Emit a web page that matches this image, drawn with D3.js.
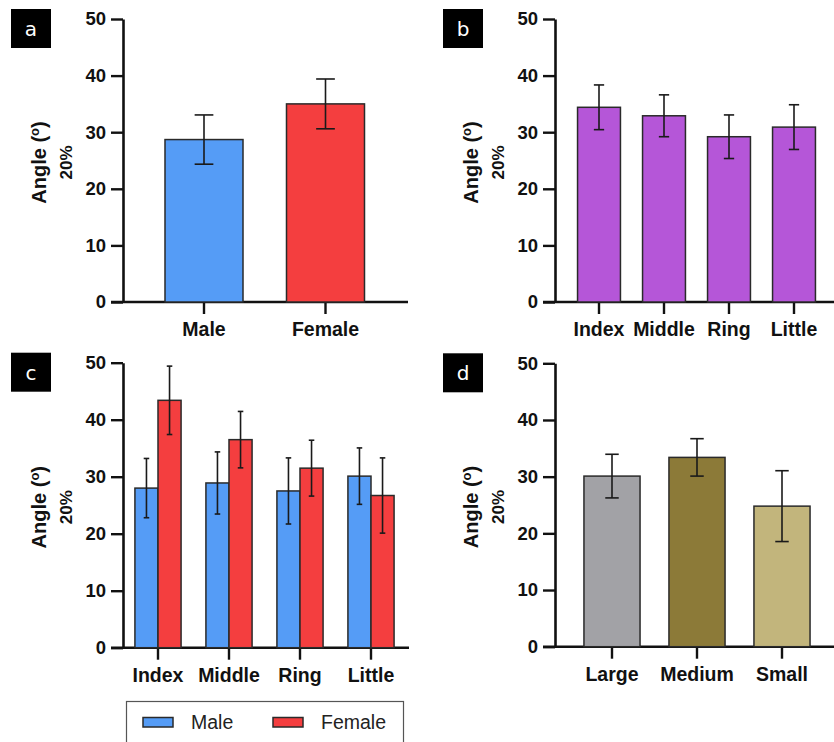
<!DOCTYPE html>
<html>
<head>
<meta charset="utf-8">
<script src="https://cdn.jsdelivr.net/npm/d3@7"></script>
<style>
  html, body { margin: 0; padding: 0; background: #fff; }
  svg { display: block; font-family: "Liberation Sans", Arial, sans-serif; }
</style>
</head>
<body>
<svg id="chart" width="834" height="742"></svg>
<script>
// ---- data ----
const yTicks = [0, 10, 20, 30, 40, 50];

// a: by sex
const sexCategories = ["Male", "Female"];
const sexMeans = [28.7, 35.0];
const sexSD = [4.35, 4.4];
const sexColors = ["#559cf6", "#f43e3f"];

// b: by finger
const fingerCategories = ["Index", "Middle", "Ring", "Little"];
const fingerMeans = [34.4, 32.9, 29.2, 30.9];
const fingerSD = [3.95, 3.7, 3.85, 3.95];
const fingerColor = "#b556d8";

// c: finger x sex
const groupSeries = ["Male", "Female"];
const maleFingerMeans = [28.0, 28.9, 27.5, 30.1];
const maleFingerSD = [5.2, 5.45, 5.8, 4.95];
const femaleFingerMeans = [43.4, 36.5, 31.5, 26.7];
const femaleFingerSD = [6.0, 4.95, 4.9, 6.6];

// d: by hand size
const sizeCategories = ["Large", "Medium", "Small"];
const sizeMeans = [30.1, 33.4, 24.8];
const sizeSD = [3.85, 3.3, 6.25];
const sizeColors = ["#a2a2a6", "#8c7a38", "#c2b57c"];

const svg = d3.select("#chart");
const INK = "#111";
const FONT = "'Liberation Sans', Arial, sans-serif";

// Draw one panel's frame: y axis, x baseline with category ticks, titles, letter tag.
function panelFrame(p) {
  const g = svg.append("g");
  const y = d3.scaleLinear().domain([0, 50]).range([p.yBottom, p.yTop]);
  const x = d3.scaleBand().domain(p.categories).range(p.xRange)
    .paddingInner(p.padding).paddingOuter(p.padding / 2);

  // y axis
  const ya = g.append("g").attr("transform", `translate(${p.axisX},0)`)
    .call(d3.axisLeft(y).tickValues(yTicks).tickSize(12).tickSizeOuter(0).tickPadding(5));
  ya.attr("font-family", FONT);
  ya.select(".domain").attr("stroke", INK).attr("stroke-width", 2.6);
  ya.selectAll(".tick line").attr("stroke", INK).attr("stroke-width", 2.4);
  ya.selectAll(".tick text").attr("fill", INK).attr("font-size", 18.5)
    .attr("font-weight", "bold");

  // x axis
  const xa = g.append("g").attr("transform", `translate(0,${p.yBottom})`)
    .call(d3.axisBottom(x).tickSize(12).tickSizeOuter(0).tickPadding(8));
  xa.attr("font-family", FONT);
  xa.select(".domain").remove();
  xa.selectAll(".tick line").attr("stroke", INK).attr("stroke-width", 2.4);
  xa.selectAll(".tick text").attr("fill", INK).attr("font-size", 19.5)
    .attr("font-weight", "bold");
  g.append("line")
    .attr("x1", p.axisX - 12).attr("x2", p.xEnd)
    .attr("y1", p.yBottom).attr("y2", p.yBottom)
    .attr("stroke", INK).attr("stroke-width", 2.6);

  // y title (two lines)
  const cy = (p.yTop + p.yBottom) / 2 + 2;
  const t1 = g.append("text")
    .attr("transform", `translate(${p.axisX - 77},${cy}) rotate(-90)`)
    .attr("text-anchor", "middle").attr("font-size", 20).attr("font-weight", "bold")
    .attr("fill", INK);
  t1.append("tspan").text("Angle (");
  t1.append("tspan").attr("font-size", 13).attr("dy", -7).text("o");
  t1.append("tspan").attr("dy", 7).text(")");
  g.append("text")
    .attr("transform", `translate(${p.axisX - 51.5},${cy}) rotate(-90)`)
    .attr("text-anchor", "middle").attr("font-size", 17).attr("font-weight", "bold")
    .attr("fill", INK).text("20%");

  // panel letter tag
  const tx = p.axisX - 112, ty = p.yTop - 10;
  g.append("rect").attr("x", tx).attr("y", ty).attr("width", 40).attr("height", 39).attr("fill", "#000");
  g.append("text").attr("x", tx + 20).attr("y", ty + 27).attr("text-anchor", "middle")
    .attr("font-size", 20).attr("font-family", "'DejaVu Sans', sans-serif")
    .attr("fill", "#fff").text(p.tag);

  return { g, x, y };
}

// Bars plus mean ± SD error bars
function drawBars(g, y, items) {
  g.selectAll("rect.bar").data(items).join("rect")
    .attr("class", "bar")
    .attr("x", d => d.x).attr("width", d => d.w)
    .attr("y", d => y(d.mean)).attr("height", d => y(0) - y(d.mean))
    .attr("fill", d => d.color).attr("stroke", "#2a2a2a").attr("stroke-width", 1.5);
  const eb = g.selectAll("g.err").data(items).join("g").attr("class", "err")
    .attr("stroke", "#1a1a1a").attr("stroke-width", 1.6);
  eb.append("line")
    .attr("x1", d => d.x + d.w / 2).attr("x2", d => d.x + d.w / 2)
    .attr("y1", d => y(d.mean + d.sd)).attr("y2", d => y(d.mean - d.sd));
  eb.append("line")
    .attr("x1", d => d.x + d.w / 2 - d.w * 0.12).attr("x2", d => d.x + d.w / 2 + d.w * 0.12)
    .attr("y1", d => y(d.mean + d.sd)).attr("y2", d => y(d.mean + d.sd));
  eb.append("line")
    .attr("x1", d => d.x + d.w / 2 - d.w * 0.12).attr("x2", d => d.x + d.w / 2 + d.w * 0.12)
    .attr("y1", d => y(d.mean - d.sd)).attr("y2", d => y(d.mean - d.sd));
}

// ---- panel a ----
{
  const { g, x, y } = panelFrame({
    tag: "a", categories: sexCategories, axisX: 123, yTop: 19, yBottom: 302,
    xRange: [143.25, 386.25], padding: 0.358, xEnd: 408
  });
  drawBars(g, y, sexCategories.map((c, i) => ({
    x: x(c), w: x.bandwidth(), mean: sexMeans[i], sd: sexSD[i], color: sexColors[i]
  })));
}

// ---- panel b ----
{
  const { g, x, y } = panelFrame({
    tag: "b", categories: fingerCategories, axisX: 555, yTop: 19, yBottom: 302,
    xRange: [566.5, 826.5], padding: 0.34, xEnd: 834
  });
  drawBars(g, y, fingerCategories.map((c, i) => ({
    x: x(c), w: x.bandwidth(), mean: fingerMeans[i], sd: fingerSD[i], color: fingerColor
  })));
}

// ---- panel c ----
{
  const { g, x, y } = panelFrame({
    tag: "c", categories: fingerCategories, axisX: 123, yTop: 362.7, yBottom: 647.7,
    xRange: [122.5, 406.5], padding: 0.35, xEnd: 409
  });
  const xs = d3.scaleBand().domain(groupSeries).range([0, x.bandwidth()]).padding(0);
  const items = [];
  fingerCategories.forEach((c, i) => {
    items.push({ x: x(c) + xs("Male"), w: xs.bandwidth(), mean: maleFingerMeans[i], sd: maleFingerSD[i], color: sexColors[0] });
    items.push({ x: x(c) + xs("Female"), w: xs.bandwidth(), mean: femaleFingerMeans[i], sd: femaleFingerSD[i], color: sexColors[1] });
  });
  drawBars(g, y, items);

  // legend
  const lg = svg.append("g").attr("font-family", FONT);
  lg.append("rect").attr("x", 126.5).attr("y", 701.5).attr("width", 277).attr("height", 60)
    .attr("fill", "none").attr("stroke", "#555").attr("stroke-width", 1.2);
  const entries = [
    { label: groupSeries[0], color: sexColors[0], sx: 143, tx: 191 },
    { label: groupSeries[1], color: sexColors[1], sx: 273, tx: 321 }
  ];
  entries.forEach(e => {
    lg.append("rect").attr("x", e.sx).attr("y", 717.5).attr("width", 30).attr("height", 9.5)
      .attr("fill", e.color).attr("stroke", "#2a2a2a").attr("stroke-width", 1.5);
    lg.append("text").attr("x", e.tx).attr("y", 728.5).attr("font-size", 19.5)
      .attr("fill", "#222").text(e.label);
  });
}

// ---- panel d ----
{
  const { g, x, y } = panelFrame({
    tag: "d", categories: sizeCategories, axisX: 555, yTop: 363.3, yBottom: 646.7,
    xRange: [569.5, 824.5], padding: 0.34, xEnd: 834
  });
  drawBars(g, y, sizeCategories.map((c, i) => ({
    x: x(c), w: x.bandwidth(), mean: sizeMeans[i], sd: sizeSD[i], color: sizeColors[i]
  })));
}
</script>
</body>
</html>
